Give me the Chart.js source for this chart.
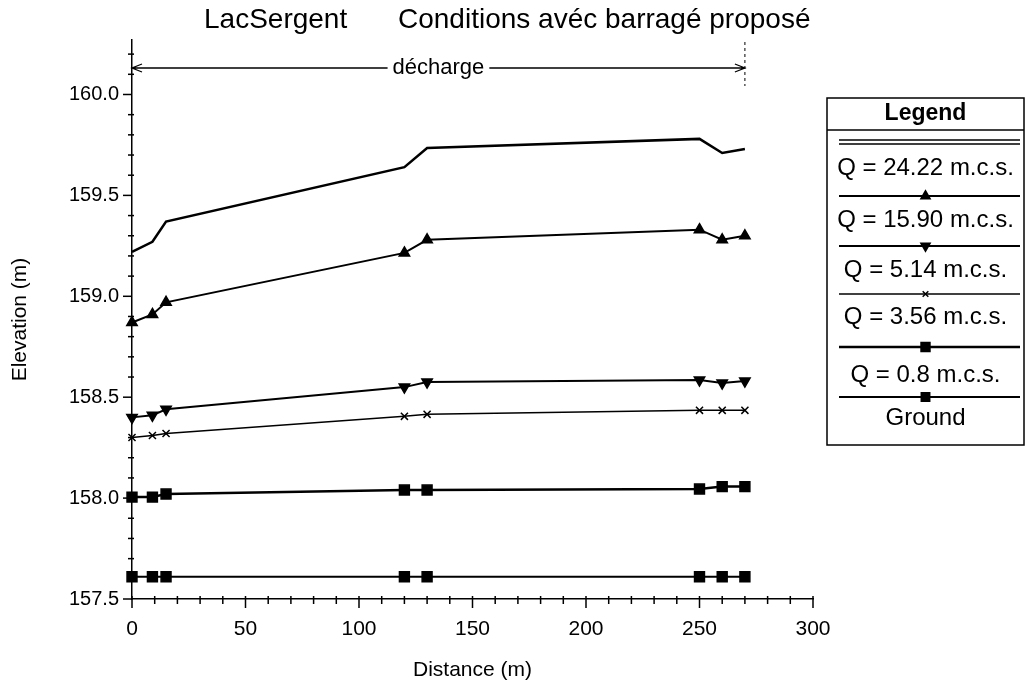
<!DOCTYPE html>
<html lang="fr">
  <head>
    <meta charset="UTF-8" />
    <script src="https://cdn.jsdelivr.net/npm/chart.js"></script>
    <title>Lac Sergent</title>
    <style>
      body { margin: 0; background: #fff; }
      #wrap { position: relative; width: 1028px; height: 693px; }
    </style>
  </head>
  <body>
    <div id="wrap"><canvas id="myChart" width="1028" height="693"></canvas></div>

    <script>
      // stations (m) and water levels (m)
      const distances = [0, 9, 15, 120, 130, 250, 260, 270];
      const q2422 = [159.22, 159.27, 159.37, 159.64, 159.735, 159.78, 159.71, 159.73];
      const q1590 = [158.87, 158.91, 158.97, 159.215, 159.28, 159.33, 159.28, 159.3];
      const q514 = [158.4, 158.41, 158.44, 158.55, 158.575, 158.585, 158.57, 158.58];
      const q356 = [158.3, 158.31, 158.32, 158.405, 158.415, 158.435, 158.435, 158.435];
      const q08 = [158.005, 158.005, 158.02, 158.04, 158.04, 158.045, 158.057, 158.057];
      const ground = [157.61, 157.61, 157.61, 157.61, 157.61, 157.61, 157.61, 157.61];

      const seriesNames = [
        "Q = 24.22 m.c.s.",
        "Q = 15.90 m.c.s.",
        "Q = 5.14 m.c.s.",
        "Q = 3.56 m.c.s.",
        "Q = 0.8 m.c.s.",
        "Ground",
      ];
      const xTicks = [0, 50, 100, 150, 200, 250, 300];
      const yTicks = [157.5, 158.0, 158.5, 159.0, 159.5, 160.0];
      const dischargeSpan = [0, 270];

      const FONT = "'Liberation Sans', Arial, sans-serif";

      const toPoints = (ys) => distances.map((d, i) => ({ x: d, y: ys[i] }));

      const styles = [
        { pointStyle: false, borderWidth: 2.5, double: true },
        { pointStyle: "triangle", pointRadius: 6, borderWidth: 2 },
        { pointStyle: "triangle", pointRadius: 6, pointRotation: 180, borderWidth: 2 },
        { pointStyle: "crossRot", pointRadius: 5, borderWidth: 1.5 },
        { pointStyle: "rect", pointRadius: 7, borderWidth: 2.5 },
        { pointStyle: "rect", pointRadius: 7, borderWidth: 2 },
      ];

      const allSeries = [q2422, q1590, q514, q356, q08, ground];

      const datasets = allSeries.map((ys, i) => ({
        label: seriesNames[i],
        data: toPoints(ys),
        borderColor: "#000",
        backgroundColor: "#000",
        borderWidth: styles[i].borderWidth,
        pointStyle: styles[i].pointStyle,
        pointRadius: styles[i].pointRadius || 0,
        pointRotation: styles[i].pointRotation || 0,
        pointBorderWidth: 1.5,
        tension: 0,
        clip: false,
      }));

      // tick marks (major + minor)
      const ticksPlugin = {
        id: "ticks",
        afterDraw(chart) {
          const { ctx, scales, chartArea } = chart;
          ctx.save();
          ctx.strokeStyle = "#000";
          ctx.lineWidth = 1.5;
          // y ticks every 0.1
          for (let k = 0; k <= 27; k++) {
            const v = 157.5 + k * 0.1;
            const y = scales.y.getPixelForValue(v);
            const major = k % 5 === 0;
            ctx.beginPath();
            ctx.moveTo(chartArea.left - (major ? 9 : 4), y);
            ctx.lineTo(chartArea.left + (major ? 0 : 2), y);
            ctx.stroke();
          }
          // x ticks every 10
          for (let v = 0; v <= 300; v += 10) {
            const x = scales.x.getPixelForValue(v);
            const major = v % 50 === 0;
            ctx.beginPath();
            ctx.moveTo(x, chartArea.bottom - 3);
            ctx.lineTo(x, chartArea.bottom + (major ? 9 : 5));
            ctx.stroke();
          }
          ctx.restore();
        },
      };

      // title line and the "décharge" arrow
      const annotPlugin = {
        id: "annot",
        afterDraw(chart) {
          const { ctx, scales } = chart;
          const x0 = scales.x.getPixelForValue(dischargeSpan[0]);
          const x1 = scales.x.getPixelForValue(dischargeSpan[1]);
          const y = 68;
          ctx.save();
          ctx.fillStyle = "#000";
          ctx.strokeStyle = "#000";
          ctx.font = "28px " + FONT;
          ctx.textBaseline = "middle";
          ctx.textAlign = "left";
          ctx.fillText("LacSergent", 204, 20);
          ctx.fillText("Conditions avéc barragé proposé", 398, 20);

          ctx.font = "22px " + FONT;
          ctx.textAlign = "center";
          const mid = (x0 + x1) / 2;
          const tw = ctx.measureText("décharge").width;
          ctx.fillText("décharge", mid, y);
          ctx.lineWidth = 1.3;
          ctx.beginPath();
          ctx.moveTo(x0, y);
          ctx.lineTo(mid - tw / 2 - 5, y);
          ctx.moveTo(mid + tw / 2 + 5, y);
          ctx.lineTo(x1, y);
          ctx.moveTo(x0 + 10, y - 4);
          ctx.lineTo(x0, y);
          ctx.lineTo(x0 + 10, y + 4);
          ctx.moveTo(x1 - 10, y - 4);
          ctx.lineTo(x1, y);
          ctx.lineTo(x1 - 10, y + 4);
          ctx.stroke();
          ctx.setLineDash([3, 3]);
          ctx.lineWidth = 1;
          ctx.beginPath();
          ctx.moveTo(x1, 42);
          ctx.lineTo(x1, 86);
          ctx.stroke();
          ctx.restore();
        },
      };

      // boxed legend, sample line above each label
      const legendPlugin = {
        id: "boxLegend",
        afterDraw(chart) {
          const { ctx } = chart;
          const left = 827, top = 98, right = 1024, bottom = 445;
          const cx = (left + right) / 2;
          const lineYs = [142, 196, 246, 294, 347, 397];
          const labelYs = [168, 220, 270, 317, 375, 418];
          ctx.save();
          ctx.strokeStyle = "#000";
          ctx.fillStyle = "#000";
          ctx.lineWidth = 1.5;
          ctx.strokeRect(left, top, right - left, bottom - top);
          ctx.beginPath();
          ctx.moveTo(left, 130);
          ctx.lineTo(right, 130);
          ctx.stroke();
          ctx.textAlign = "center";
          ctx.textBaseline = "middle";
          ctx.font = "bold 23px " + FONT;
          ctx.fillText("Legend", cx, 114);
          ctx.font = "24px " + FONT;
          chart.data.datasets.forEach((ds, i) => {
            const ly = lineYs[i];
            ctx.lineWidth = ds.borderWidth;
            ctx.beginPath();
            if (styles[i].double) {
              ctx.lineWidth = 1.5;
              ctx.moveTo(left + 12, ly - 2);
              ctx.lineTo(right - 4, ly - 2);
              ctx.moveTo(left + 12, ly + 2);
              ctx.lineTo(right - 4, ly + 2);
            } else {
              ctx.moveTo(left + 12, ly);
              ctx.lineTo(right - 4, ly);
            }
            ctx.stroke();
            if (ds.pointStyle) {
              Chart.helpers.drawPoint(
                ctx,
                {
                  pointStyle: ds.pointStyle,
                  radius: ds.pointRadius * 0.8,
                  rotation: ds.pointRotation,
                  borderWidth: 1.5,
                },
                cx,
                ly
              );
              ctx.fill();
            }
            ctx.fillText(ds.label, cx, labelYs[i]);
          });
          ctx.restore();
        },
      };

      const ctx = document.getElementById("myChart");

      const chart = new Chart(ctx, {
        type: "line",
        data: { datasets: datasets },
        options: {
          responsive: false,
          animation: false,
          layout: { padding: { left: 0, right: 215, top: 40, bottom: 0 } },
          plugins: {
            legend: { display: false },
            title: { display: false },
            tooltip: { enabled: false },
          },
          scales: {
            x: {
              type: "linear",
              min: 0,
              max: 300,
              afterFit: (s) => { s.height = 94; },
              afterBuildTicks: (s) => { s.ticks = xTicks.map((v) => ({ value: v })); },
              grid: { display: false },
              border: { display: true, color: "#000", width: 1.5 },
              ticks: {
                color: "#000",
                padding: 10,
                font: { family: FONT, size: 21 },
                maxRotation: 0,
              },
              title: {
                display: true,
                text: "Distance (m)",
                color: "#000",
                font: { family: FONT, size: 21 },
                padding: { top: 0, bottom: 10 },
              },
            },
            y: {
              type: "linear",
              min: 157.5,
              max: 160.27,
              afterFit: (s) => { s.width = 132; },
              afterBuildTicks: (s) => { s.ticks = yTicks.map((v) => ({ value: v })); },
              grid: { display: false },
              border: { display: true, color: "#000", width: 1.5 },
              ticks: {
                color: "#000",
                padding: 5,
                font: { family: FONT, size: 20 },
                callback: (v) => v.toFixed(1),
              },
              title: {
                display: true,
                text: "Elevation (m)",
                color: "#000",
                font: { family: FONT, size: 21 },
                padding: { top: 8, bottom: 0 },
              },
            },
          },
        },
        plugins: [ticksPlugin, annotPlugin, legendPlugin],
      });
    </script>
  </body>
</html>
